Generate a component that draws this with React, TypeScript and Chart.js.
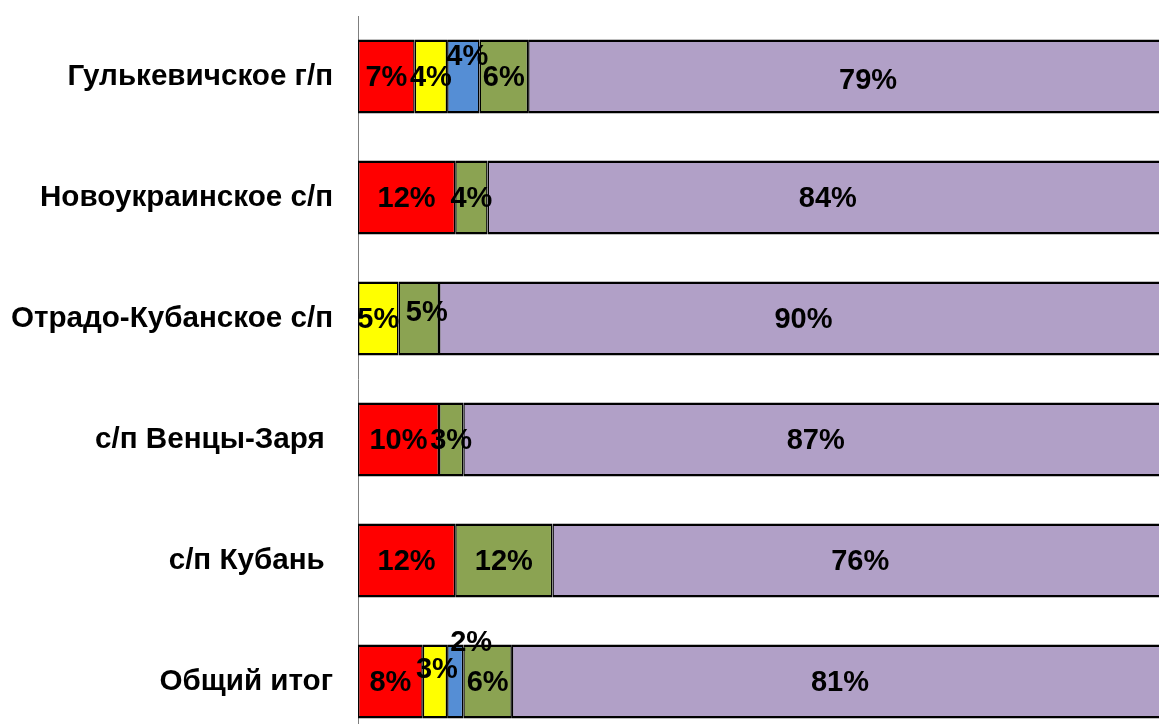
import React, { useEffect, useRef } from "react";
import { Chart, registerables } from "chart.js";

Chart.register(...registerables);

const categories = [
  "Гулькевичское г/п",
  "Новоукраинское с/п",
  "Отрадо-Кубанское с/п",
  "с/п Венцы-Заря ",
  "с/п Кубань ",
  "Общий итог",
];

const seriesNames = ["Группа 1", "Группа 2", "Группа 3", "Группа 4", "Группа 5"];

const redValues = [7, 12, null, 10, 12, 8];
const yellowValues = [4, null, 5, null, null, 3];
const blueValues = [4, null, null, null, null, 2];
const greenValues = [6, 4, 5, 3, 12, 6];
const purpleValues = [79, 84, 90, 87, 76, 81];

const seriesColors = ["#FF0000", "#FFFF00", "#558ED5", "#8BA352", "#B1A0C7"];

// manual label nudges (dataset-row) as placed in the original
const labelOffsets: Record<string, [number, number]> = {
  "2-0": [4, -21],
  "4-0": [20, 3],
  "2-5": [16, -40],
  "1-5": [2, -13],
  "3-2": [8, -7],
};

const FONT = "'Liberation Sans', Arial, sans-serif";

const labelPlugin = {
  id: "segLabels",
  afterDatasetsDraw(chart: any) {
    const ctx = chart.ctx;
    ctx.save();
    ctx.font = `bold 29px ${FONT}`;
    ctx.fillStyle = "#000";
    ctx.textAlign = "center";
    ctx.textBaseline = "middle";
    chart.data.datasets.forEach((ds: any, di: number) => {
      const meta = chart.getDatasetMeta(di);
      meta.data.forEach((el: any, i: number) => {
        const v = ds.data[i];
        if (v === null || v === undefined || v === 0) return;
        const off = labelOffsets[`${di}-${i}`] || [0, 0];
        const cx = (el.x + el.base) / 2 + off[0];
        const cy = el.y + off[1] + 1;
        ctx.fillText(`${v}%`, cx, cy);
      });
    });
    ctx.restore();
  },
};

export default function App() {
  const ref = useRef<HTMLCanvasElement | null>(null);

  useEffect(() => {
    if (!ref.current) return;
    const allValues = [redValues, yellowValues, blueValues, greenValues, purpleValues];
    const chart = new Chart(ref.current, {
      type: "bar",
      data: {
        labels: categories,
        datasets: allValues.map((vals, k) => ({
          label: seriesNames[k],
          data: vals as any,
          backgroundColor: seriesColors[k],
          borderColor: "#000000",
          borderWidth: { top: 2.5, bottom: 2.5, left: 1.5, right: 1.5 } as any,
          borderSkipped: false as any,
          barPercentage: 0.612,
          categoryPercentage: 1,
        })),
      },
      options: {
        indexAxis: "y",
        responsive: false,
        animation: false,
        layout: { padding: { top: 16, right: 12, bottom: 8, left: 0 } },
        plugins: {
          legend: { display: false },
          tooltip: { enabled: false },
          title: { display: false },
        },
        scales: {
          x: {
            stacked: true,
            min: 0,
            max: 100,
            display: false,
          },
          y: {
            stacked: true,
            grid: { display: false, drawTicks: false },
            border: { display: true, color: "#7F7F7F", width: 1 },
            ticks: {
              color: "#000",
              padding: 25,
              font: { family: FONT, size: 29.6, weight: "bold" },
            },
            afterFit(scale: any) {
              scale.width = 358;
              scale.paddingTop = 0;
              scale.paddingBottom = 0;
            },
          },
        },
      },
      plugins: [labelPlugin],
    });
    return () => chart.destroy();
  }, []);

  return (
    <div
      style={{
        position: "fixed",
        left: 0,
        top: 0,
        width: 1159,
        height: 724,
        overflow: "hidden",
        background: "#fff",
      }}
    >
      <canvas ref={ref} width={1180} height={750} style={{ display: "block" }} />
    </div>
  );
}
